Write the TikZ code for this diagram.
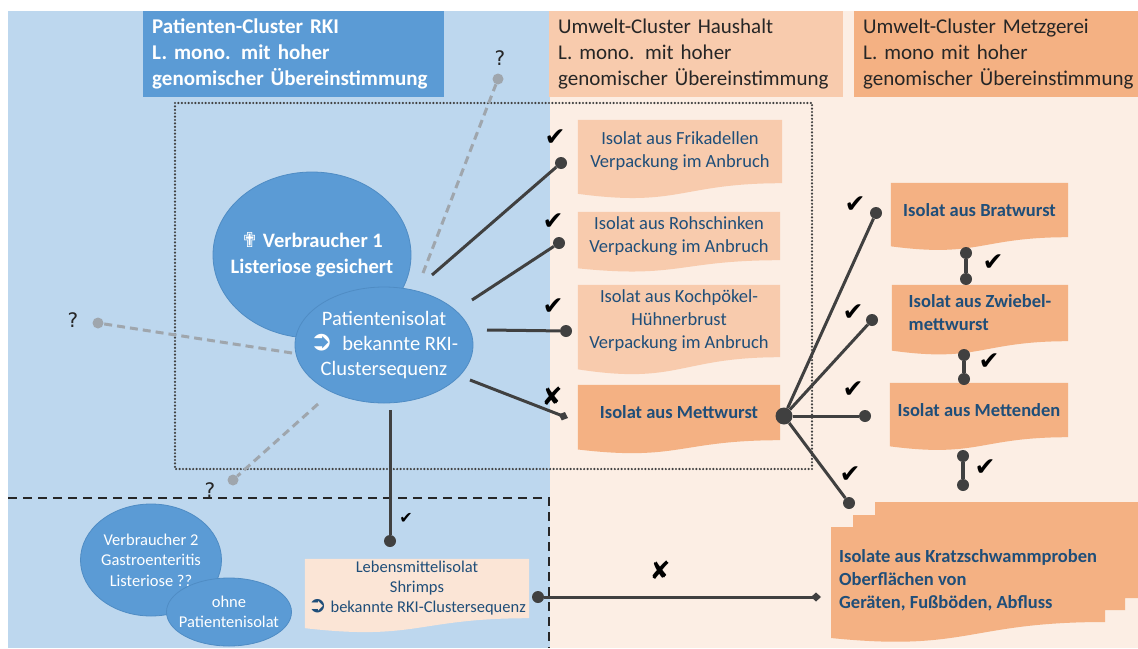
\documentclass[tikz,border=0pt]{standalone}
\usepackage{fontspec}
\usepackage{graphicx}
\setmainfont{Carlito}
\newfontfamily\djv{DejaVu Sans}
\usetikzlibrary{calc,shapes.geometric,arrows.meta}
\pgfdeclarelayer{back}
\pgfdeclarelayer{bg}
\pgfsetlayers{back,bg,main}
\definecolor{bluebg}{HTML}{BDD7EE}
\definecolor{peachbg}{HTML}{FCEEE4}
\definecolor{bluefill}{HTML}{5B9BD5}
\definecolor{blueedge}{HTML}{4F8CC4}
\definecolor{lightor}{HTML}{F8CBAD}
\definecolor{darkor}{HTML}{F4B183}
\definecolor{paleor}{HTML}{FBE5D6}
\definecolor{txtblue}{HTML}{1F4E79}
\definecolor{txtdark}{HTML}{262626}
\definecolor{conn}{HTML}{404040}
\definecolor{qgray}{HTML}{9FA6AD}
\newcommand{\docbg}[2]{%
  \begin{pgfonlayer}{bg}
    \fill[#2] (#1.north west) -- (#1.north east) -- (#1.south east)
      .. controls (#1.south) and ($(#1.north)!1.384!(#1.south)$) ..
      ($(#1.north west)!1.1675!(#1.south west)$) -- cycle;
  \end{pgfonlayer}}
\newcommand{\arrowsym}{{\djv\scalebox{1.35}{➲}}}
\begin{document}
\begin{tikzpicture}[x=1pt,y=-1pt,
  hdr/.style={anchor=north west, inner ysep=0pt, inner xsep=9pt, minimum height=86pt, align=left, font=\fontsize{21}{26}\selectfont},
  ell/.style={ellipse, fill=bluefill, draw=blueedge, line width=0.8pt, inner sep=0pt},
  etext/.style={text=white, align=center, inner sep=0pt},
  hbox/.style={inner sep=0pt, align=center, text=txtblue, font=\fontsize{18.5}{23}\selectfont},
  mbox/.style={inner sep=0pt, align=left, text=txtblue, font=\bfseries\fontsize{18.5}{23}\selectfont},
  dot/.style={circle, fill=conn, inner sep=0pt, minimum size=12pt},
  gdot/.style={circle, fill=qgray, inner sep=0pt, minimum size=11pt},
  cline/.style={draw=conn, line width=3pt},
  gline/.style={draw=qgray, line width=3pt, dash pattern=on 8pt off 5pt},
  chk/.style={inner sep=0pt, text=black, font=\djv\fontsize{25}{25}\selectfont},
  qm/.style={inner sep=0pt, text=txtdark, font=\djv\fontsize{20}{20}\selectfont},
  dia/.style={-{Diamond[length=10pt,width=9pt]}},
]
\useasboundingbox (0,0) rectangle (1138,648);
\begin{pgfonlayer}{back}
  \fill[white] (0,0) rectangle (1138,648);
  \fill[bluebg] (8,11) rectangle (550,648);
  \fill[peachbg] (550,11) rectangle (1138,648);
\end{pgfonlayer}

% headers
\node[hdr, fill=bluefill, text=white, font=\bfseries\fontsize{21}{26}\selectfont, minimum width=301pt, text width=283pt] (hp) at (143,11) {Patienten-Cluster RKI\\L. mono. mit hoher\\genomischer Übereinstimmung};
\node[hdr, fill=lightor, text=txtdark, minimum width=294pt, text width=276pt] (hh) at (549,11) {Umwelt-Cluster Haushalt\\L. mono. mit hoher\\genomischer Übereinstimmung};
\node[hdr, fill=darkor, text=txtdark, minimum width=284pt, text width=280pt] (hm) at (854,11) {Umwelt-Cluster Metzgerei\\L. mono mit hoher\\genomischer Übereinstimmung};

% frames
\draw[conn, line width=2.4pt, line cap=round, dash pattern=on 0pt off 3.4pt] (175,103) rectangle (812,469);
\draw[txtdark, line width=2pt, dash pattern=on 9pt off 6pt] (8,498) -- (549,498) -- (549,648);

% ellipses
\node[ell, minimum width=198pt, minimum height=166pt, label={[etext, name=v1t, font=\bfseries\fontsize{20.5}{25.5}\selectfont]center:{{\djv\mdseries ✟} Verbraucher 1\\Listeriose gesichert}}] (v1) at (312,255) {};
\node[ell, minimum width=178pt, minimum height=116pt, label={[etext, name=patt, font=\fontsize{20.5}{25}\selectfont]center:{Patientenisolat\\\arrowsym\ \ bekannte RKI-\\Clustersequenz}}] (pat) at (384,345) {};
\node[ell, minimum width=141pt, minimum height=112pt, label={[etext, name=v2t, font=\fontsize{16.5}{20.5}\selectfont]center:{Verbraucher 2\\Gastroenteritis\\Listeriose ??}}] (v2) at (151,560) {};
\node[ell, minimum width=125pt, minimum height=68pt, label={[etext, name=ohnet, font=\fontsize{16.5}{20}\selectfont]center:{ohne\\Patientenisolat}}] (ohne) at (229,612) {};

% Haushalt boxes
\node[hbox, minimum width=204pt, minimum height=63pt] (frik) at (680,151.5) {Isolat aus Frikadellen\\Verpackung im Anbruch};
\docbg{frik}{lightor}
\node[hbox, minimum width=202pt, minimum height=48pt] (roh) at (679,236) {Isolat aus Rohschinken\\Verpackung im Anbruch};
\docbg{roh}{lightor}
\node[hbox, minimum width=202pt, minimum height=72pt] (koch) at (679,321) {Isolat aus Kochpökel-\\Hühnerbrust\\Verpackung im Anbruch};
\docbg{koch}{lightor}
\node[hbox, font=\bfseries\fontsize{18.5}{23}\selectfont, minimum width=202pt, minimum height=55pt] (mett) at (679,412.5) {Isolat aus Mettwurst};
\docbg{mett}{darkor}

% Metzgerei boxes
\node[mbox, minimum width=177pt, minimum height=54pt] (brat) at (979.5,210) {Isolat aus Bratwurst};
\docbg{brat}{darkor}
\node[mbox, minimum width=176pt, minimum height=56pt] (zwie) at (980,313) {Isolat aus Zwiebel-\\mettwurst};
\docbg{zwie}{darkor}
\node[mbox, minimum width=178pt, minimum height=54pt] (mend) at (979,410) {Isolat aus Mettenden};
\docbg{mend}{darkor}

% Lebensmittel box
\node[hbox, font=\fontsize{16.5}{20}\selectfont, minimum width=224pt, minimum height=59pt] (leb) at (417,588.5) {Lebensmittelisolat\\Shrimps\\\arrowsym\ bekannte RKI-Clustersequenz};
\docbg{leb}{paleor}

% Kratz box
\begin{pgfonlayer}{bg}
\fill[darkor] (875,502) -- (1138,502) -- (1138,598) -- (1125,598) -- (1125,610) -- (1105,610) -- (1105,622)
  .. controls (968,622) and (968,652) .. (831,638) -- (831,527) -- (853,527) -- (853,515) -- (875,515) -- cycle;
\end{pgfonlayer}
\node[mbox, anchor=west] (kratz) at (839,580) {Isolate aus Kratzschwammproben\\Oberflächen von\\Geräten, Fußböden, Abfluss};

% connector points
\coordinate (s1) at (432,275);
\coordinate (s2) at (472,300);
\coordinate (s3) at (487,330);
\coordinate (s4) at (470,380);
\coordinate (s5) at (390,410);
\coordinate (m4) at (568,418);
\coordinate (kd) at (821,597);

\node[dot] (d1) at (561,163) {};
\node[dot] (d2) at (559,243) {};
\node[dot] (d3) at (566,331) {};
\draw[cline] (s1) -- (d1);
\draw[cline] (s2) -- (d2);
\draw[cline] (s3) -- (d3);
\draw[cline, dia] (s4) -- (m4);

\node[dot] (l1) at (390,541) {};
\draw[cline] (s5) -- (l1);
\node[dot] (l2) at (538,597) {};
\draw[cline, dia] (l2) -- (kd);

% Metzgerei hub
\node[dot, minimum size=17pt] (hub) at (784,416) {};
\node[dot] (b1) at (876,213) {};
\node[dot] (b2) at (872,320) {};
\node[dot] (b3) at (865,416) {};
\node[dot] (b4) at (849,503) {};
\draw[cline] (hub) -- (b1);
\draw[cline] (hub) -- (b2);
\draw[cline] (hub) -- (b3);
\draw[cline] (hub) -- (b4);

\node[dot] (v1a) at (966,253) {};
\node[dot] (v1b) at (966,279) {};
\draw[cline, line width=4pt] (v1a) -- (v1b);
\node[dot] (v2a) at (964,355) {};
\node[dot] (v2b) at (964,379) {};
\draw[cline, line width=4pt] (v2a) -- (v2b);
\node[dot] (v3a) at (963,456) {};
\node[dot] (v3b) at (963,485) {};
\draw[cline, line width=4pt] (v3a) -- (v3b);

% gray unknown links
\coordinate (g1) at (423,273);
\coordinate (g2) at (292,353);
\coordinate (g3) at (318,404);
\node[gdot] (q1d) at (498,79) {};
\node[gdot] (q2d) at (98,323) {};
\node[gdot] (q3d) at (233,480) {};
\draw[gline] (g1) -- (q1d);
\draw[gline] (g2) -- (q2d);
\draw[gline] (g3) -- (q3d);
\node[qm] (q1) at (500,58) {?};
\node[qm] (q2) at (73,320) {?};
\node[qm] (q3) at (210,490) {?};

% checks and crosses
\node[chk] (c1) at (555,138) {✔};
\node[chk] (c2) at (553,222) {✔};
\node[chk] (c3) at (553,307) {✔};
\node[chk] (x1) at (552,396) {✘};
\node[chk] (c4) at (855,205) {✔};
\node[chk] (c5) at (853,313) {✔};
\node[chk] (c6) at (853,390) {✔};
\node[chk] (c7) at (850,475) {✔};
\node[chk] (c8) at (993,263) {✔};
\node[chk] (c9) at (989,362) {✔};
\node[chk] (c10) at (985,468) {✔};
\node[chk, font=\djv\fontsize{16}{16}\selectfont] (c11) at (406,518) {✔};
\node[chk] (x2) at (660,570) {✘};
\end{tikzpicture}
\end{document}
